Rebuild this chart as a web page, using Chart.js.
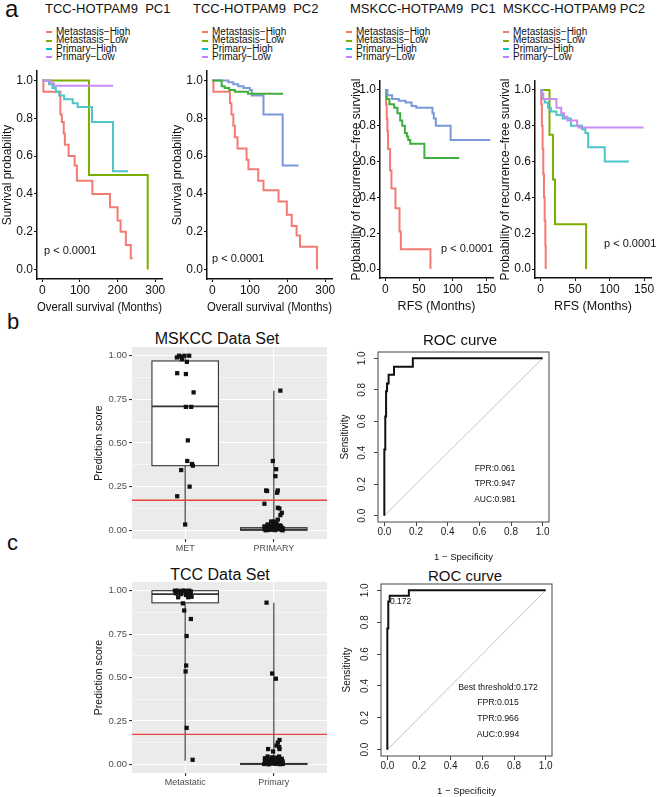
<!DOCTYPE html>
<html>
<head>
<meta charset="utf-8">
<script src="https://cdn.jsdelivr.net/npm/chart.js@4.4.1/dist/chart.umd.min.js"></script>
<style>
  body { margin: 0; background: #fff; }
  #fig { position: relative; width: 658px; height: 797px; overflow: hidden;
         font-family: "Liberation Sans", Arial, Helvetica, sans-serif; color: #111; }
  canvas { position: absolute; }
  .t { position: absolute; white-space: nowrap; line-height: 1; transform: translateY(-50%); }
  .c { transform: translate(-50%, -50%); }
  .leg { position: absolute; font-size: 10px; white-space: nowrap; }
  .leg div { height: 8.3px; line-height: 8.3px; }
  .leg i { display: inline-block; width: 6px; height: 2px; vertical-align: middle; margin-right: 4px; }
</style>
</head>
<body>
<div id="fig">
  <div class="t" style="left:5px;top:9px;font-size:24px">a</div>
  <div class="t" style="left:7px;top:322px;font-size:22px">b</div>
  <div class="t" style="left:7px;top:543px;font-size:22px">c</div>

  <div class="t" style="left:45px;top:8px;font-size:13px">TCC-HOTPAM9&nbsp; PC1</div>
  <div class="t" style="left:193px;top:8px;font-size:13px">TCC-HOTPAM9&nbsp; PC2</div>
  <div class="t" style="left:350px;top:8px;font-size:13px">MSKCC-HOTPAM9&nbsp; PC1</div>
  <div class="t" style="left:503px;top:8px;font-size:13px">MSKCC-HOTPAM9 PC2</div>

  <div class="leg" id="leg1" style="left:46px;top:28px"></div>
  <div class="leg" id="leg2" style="left:202px;top:28px"></div>
  <div class="leg" id="leg3" style="left:346px;top:28px"></div>
  <div class="leg" id="leg4" style="left:503px;top:28px"></div>

  <canvas id="km1" width="175" height="315" style="left:0;top:0"></canvas>
  <canvas id="km2" width="174" height="315" style="left:170px;top:0"></canvas>
  <canvas id="km3" width="154" height="314" style="left:349px;top:0"></canvas>
  <canvas id="km4" width="160" height="314" style="left:498px;top:0"></canvas>

  <div class="t" style="left:44px;top:250px;font-size:11px">p &lt; 0.0001</div>
  <div class="t" style="left:212px;top:258px;font-size:11px">p &lt; 0.0001</div>
  <div class="t" style="left:441px;top:248px;font-size:11px">p &lt; 0.0001</div>
  <div class="t" style="left:604px;top:243px;font-size:11px">p &lt; 0.0001</div>

  <div class="t c" style="left:217px;top:339px;font-size:16px">MSKCC Data Set</div>
  <div class="t c" style="left:460px;top:339px;font-size:15px">ROC curve</div>
  <div class="t c" style="left:220px;top:575px;font-size:16px">TCC Data Set</div>
  <div class="t c" style="left:465px;top:575px;font-size:15px">ROC curve</div>

  <canvas id="box1" width="240" height="224" style="left:93px;top:330px"></canvas>
  <canvas id="roc1" width="220" height="223" style="left:339px;top:340px"></canvas>
  <canvas id="box2" width="240" height="223" style="left:93px;top:565px"></canvas>
  <canvas id="roc2" width="221" height="225" style="left:341px;top:572px"></canvas>

  <div class="t c" style="left:495px;top:468px;font-size:8.5px">FPR:0.061</div>
  <div class="t c" style="left:495px;top:483px;font-size:8.5px">TPR:0.947</div>
  <div class="t c" style="left:495px;top:499px;font-size:8.5px">AUC:0.981</div>

  <div class="t" style="left:390px;top:601px;font-size:8.5px">0.172</div>
  <div class="t c" style="left:498px;top:687px;font-size:8.7px">Best threshold:0.172</div>
  <div class="t c" style="left:498px;top:702px;font-size:8.7px">FPR:0.015</div>
  <div class="t c" style="left:498px;top:718px;font-size:8.7px">TPR:0.966</div>
  <div class="t c" style="left:498px;top:734px;font-size:8.7px">AUC:0.994</div>
</div>

<script>
const FAMILY = '"Liberation Sans", Arial, Helvetica, sans-serif';
Chart.defaults.font.family = FAMILY;
Chart.defaults.color = '#111';

// ---- panel a: Kaplan-Meier curves (time in months, survival probability) ----
const groups = ['Metastasis−High', 'Metastasis−Low', 'Primary−High', 'Primary−Low'];
const groupColors = ['#f8766d', '#7cae00', '#00bfc4', '#c77cff'];

const tccPc1MetHighT = [0, 3, 48, 52, 57, 60, 70, 86, 92, 133, 180, 200, 208, 222, 235, 240];
const tccPc1MetHighS = [1, 0.94, 0.82, 0.78, 0.72, 0.66, 0.60, 0.55, 0.47, 0.40, 0.33, 0.26, 0.20, 0.13, 0.06, 0.06];
const tccPc1MetLowT = [0, 124, 280];
const tccPc1MetLowS = [1, 0.5, 0];
const tccPc1PriHighT = [0, 18, 27, 36, 45, 58, 81, 94, 132, 188, 228];
const tccPc1PriHighS = [1, 0.98, 0.96, 0.94, 0.92, 0.90, 0.88, 0.86, 0.78, 0.52, 0.52];
const tccPc1PriLowT = [0, 22, 31, 188];
const tccPc1PriLowS = [1, 0.985, 0.972, 0.972];

const tccPc2MetHighT = [0, 3, 47, 51, 56, 60, 67, 91, 96, 122, 136, 176, 198, 211, 224, 233, 278];
const tccPc2MetHighS = [1, 0.94, 0.88, 0.82, 0.76, 0.70, 0.64, 0.58, 0.53, 0.47, 0.42, 0.36, 0.29, 0.23, 0.18, 0.12, 0];
const tccPc2MetLowT = [0, 25, 33, 45, 60, 95, 188];
const tccPc2MetLowS = [1, 0.97, 0.96, 0.95, 0.94, 0.93, 0.93];
const tccPc2PriT = [0, 43, 56, 69, 83, 100, 105, 136, 187, 229];
const tccPc2PriS = [1, 0.99, 0.98, 0.97, 0.96, 0.95, 0.92, 0.82, 0.55, 0.55];

const mskPc1MetHighT = [0, 1, 2, 3, 4, 7, 9, 15, 21, 23, 67];
const mskPc1MetHighS = [1, 0.92, 0.84, 0.77, 0.67, 0.55, 0.45, 0.34, 0.21, 0.11, 0];
const mskPc1MetLowT = [0, 2, 6, 13, 18, 22, 25, 29, 32, 34, 37, 58, 110];
const mskPc1MetLowS = [1, 0.95, 0.92, 0.90, 0.87, 0.83, 0.80, 0.76, 0.74, 0.72, 0.70, 0.62, 0.62];
const mskPc1PriT = [0, 3, 10, 20, 30, 39, 46, 70, 72, 75, 97, 156];
const mskPc1PriS = [1, 0.97, 0.95, 0.94, 0.93, 0.91, 0.90, 0.87, 0.84, 0.80, 0.72, 0.72];

const mskPc2MetHighT = [0, 1, 2, 3, 4, 5, 6, 7, 7.5];
const mskPc2MetHighS = [1, 0.92, 0.80, 0.67, 0.53, 0.40, 0.27, 0.13, 0];
const mskPc2MetLowT = [0, 13, 18, 21, 66];
const mskPc2MetLowS = [1, 0.75, 0.5, 0.25, 0];
const mskPc2PriHighT = [0, 2, 6, 11, 15, 23, 32, 44, 60, 65, 69, 93, 128];
const mskPc2PriHighS = [1, 0.95, 0.93, 0.90, 0.88, 0.86, 0.84, 0.80, 0.78, 0.76, 0.68, 0.60, 0.60];
const mskPc2PriLowT = [0, 1.5, 4, 23, 30, 34, 39, 53, 55, 149];
const mskPc2PriLowS = [1, 0.98, 0.95, 0.90, 0.87, 0.85, 0.83, 0.80, 0.79, 0.79];

const kmYTicks = [0, 0.2, 0.4, 0.6, 0.8, 1.0];
const osTicks = [0, 100, 200, 300];
const rfsTicks = [0, 50, 100, 150];

// ---- panel b/c: prediction scores (x = category position incl. jitter) ----
const boxCatsMskcc = ['MET', 'PRIMARY'];
const mskMetX = [0.906, 0.93, 0.955, 0.963, 0.993, 1.019, 1.045, 0.91, 1.008, 1.095, 1.008, 1.068, 1.03, 1.023, 1.076, 1.087, 0.955, 1.05, 0.91, 1.0];
const mskMetY = [0.99, 1.0, 0.995, 0.98, 1.0, 0.965, 1.0, 0.90, 0.895, 0.79, 0.707, 0.707, 0.515, 0.397, 0.38, 0.37, 0.345, 0.25, 0.195, 0.033];
const mskPriX = [2.074, 1.989, 2.026, 2.018, 1.913, 1.924, 2.045, 2.037, 1.894, 2.045, 2.063, 2.09, 2.074, 2.045, 1.97, 2.0, 2.026, 1.932, 1.894, 2.082,
  1.90, 1.92, 1.94, 1.96, 1.98, 2.00, 2.02, 2.04, 2.06, 2.08, 2.10, 1.91, 1.93, 1.95, 1.97, 1.99, 2.01, 2.03, 2.05, 2.07, 2.09, 1.90, 1.95, 2.00, 2.05, 2.10, 1.93, 1.98, 2.03, 2.08];
const mskPriY = [0.80, 0.397, 0.35, 0.31, 0.228, 0.225, 0.228, 0.215, 0.152, 0.129, 0.125, 0.10, 0.087, 0.061, 0.05, 0.05, 0.04, 0.033, 0.022, 0.022,
  0.005, 0.012, 0.002, 0.018, 0.008, 0.015, 0.003, 0.01, 0.02, 0.006, 0.012, 0.0, 0.008, 0.025, 0.004, 0.03, 0.001, 0.016, 0.007, 0.028, 0.002, 0.018, 0.006, 0.024, 0.012, 0.0, 0.03, 0.02, 0.035, 0.014];
const mskQ1 = [0.37, 0], mskMed = [0.71, 0.005], mskQ3 = [0.97, 0.015], mskLo = [0.03, 0], mskHi = [1.0, 0.80];

const boxCatsTcc = ['Metastatic', 'Primary'];
const tccMetX = [0.884, 0.914, 0.944, 0.971, 0.997, 1.019, 1.045, 1.064, 0.895, 0.951, 1.008, 1.056, 1.072, 0.921, 1.034, 0.974, 0.989, 1.064, 1.016, 1.011, 1.005, 1.016, 1.084];
const tccMetY = [1.0, 1.0, 0.995, 1.0, 1.0, 0.99, 1.0, 0.995, 0.985, 0.98, 0.975, 0.98, 0.965, 0.962, 0.962, 0.927, 0.886, 0.837, 0.739, 0.569, 0.535, 0.21, 0.026];
const tccPriX = [1.918, 1.981, 2.023, 2.064, 2.045, 2.03, 2.06, 1.936, 2.064, 1.992,
  1.89, 1.91, 1.93, 1.95, 1.97, 1.99, 2.01, 2.03, 2.05, 2.07, 2.09, 1.90, 1.92, 1.94, 1.96, 1.98, 2.00, 2.02, 2.04, 2.06, 2.08, 2.10, 1.90, 1.94, 1.98, 2.02, 2.06, 2.10, 1.93, 1.97, 2.01, 2.05, 2.09];
const tccPriY = [0.931, 0.523, 0.493, 0.14, 0.125, 0.108, 0.10, 0.088, 0.088, 0.074,
  0.002, 0.01, 0.02, 0.004, 0.015, 0.03, 0.006, 0.012, 0.025, 0.001, 0.018, 0.035, 0.008, 0.0, 0.022, 0.04, 0.012, 0.003, 0.03, 0.045, 0.009, 0.016, 0.02, 0.028, 0.005, 0.038, 0.014, 0.002, 0.045, 0.01, 0.024, 0.006, 0.032];
const tccQ1 = [0.93, 0], tccMed = [0.98, 0.002], tccQ3 = [1.0, 0.005], tccLo = [0.02, 0], tccHi = [1.0, 0.93];

const threshold = 0.172;
const boxYTicks = [0, 0.125, 0.25, 0.375, 0.5, 0.625, 0.75, 0.875, 1.0];

// ---- ROC curves ----
const rocTicks = [0, 0.2, 0.4, 0.6, 0.8, 1.0];
const mskFpr = [0, 0.006, 0.011, 0.017, 0.027, 0.061, 0.18, 1.0];
const mskTpr = [0, 0.42, 0.63, 0.79, 0.84, 0.895, 0.947, 1.0];
const tccFpr = [0, 0.006, 0.015, 0.136, 1.0];
const tccTpr = [0, 0.76, 0.93, 0.966, 1.0];

// legends (html)
['leg1', 'leg2', 'leg3', 'leg4'].forEach(id => {
  document.getElementById(id).innerHTML = groups.map((g, i) =>
    '<div><i style="background:' + groupColors[i] + '"></i>' + g + '</div>').join('');
});

const setTicks = vals => s => { s.ticks = vals.map(v => ({ value: v })); };
const isMajor = v => Math.abs(v * 4 - Math.round(v * 4)) < 1e-6;

function kmChart(id, series, o) {
  new Chart(document.getElementById(id), {
    type: 'line',
    data: {
      datasets: series.map(s => ({
        data: s.t.map((t, i) => ({ x: t, y: s.s[i] })),
        borderColor: s.c, borderWidth: 2, pointRadius: 0, stepped: true
      }))
    },
    options: {
      responsive: false, animation: false, events: [],
      layout: { padding: o.pad },
      plugins: { legend: { display: false }, tooltip: { enabled: false } },
      scales: {
        x: {
          type: 'linear', min: o.xmin, max: o.xmax,
          afterBuildTicks: setTicks(o.xticks),
          afterFit: s => { s.height = 36; },
          border: { color: '#111', width: 1.5 },
          grid: { drawOnChartArea: false, tickLength: 3, color: '#111' },
          ticks: { autoSkip: false, maxRotation: 0, padding: 1, font: { size: 12 }, color: '#111', callback: v => String(v) },
          title: { display: true, text: o.xTitle, font: { size: 12.5 }, color: '#111', padding: 0 }
        },
        y: {
          type: 'linear', min: -0.05, max: 1.05,
          afterBuildTicks: setTicks(kmYTicks),
          afterFit: s => { s.width = o.yw; },
          border: { color: '#111', width: 1.5 },
          grid: { drawOnChartArea: false, tickLength: 3, color: '#111' },
          ticks: { autoSkip: false, padding: 1, font: { size: 12 }, color: '#111', callback: v => v.toFixed(1) },
          title: { display: true, text: o.yTitle, font: { size: 12 }, color: '#111', padding: 0 }
        }
      }
    }
  });
}

const salmon = '#f47b73', olive = '#7cae00', cyan = '#4cc4c8', purple = '#c98cf0', green = '#3fae3b', blue = '#7b98db';

kmChart('km1', [
  { t: tccPc1PriLowT, s: tccPc1PriLowS, c: purple },
  { t: tccPc1PriHighT, s: tccPc1PriHighS, c: cyan },
  { t: tccPc1MetLowT, s: tccPc1MetLowS, c: olive },
  { t: tccPc1MetHighT, s: tccPc1MetHighS, c: salmon }
], { pad: { left: 0, top: 71, right: 13, bottom: 0 }, yw: 37, xmin: -14, xmax: 318, xticks: osTicks,
     xTitle: 'Overall survival (Months)', yTitle: 'Survival probability' });

kmChart('km2', [
  { t: tccPc2MetLowT, s: tccPc2MetLowS, c: green },
  { t: tccPc2PriT, s: tccPc2PriS, c: blue },
  { t: tccPc2MetHighT, s: tccPc2MetHighS, c: salmon }
], { pad: { left: 0, top: 71, right: 12, bottom: 0 }, yw: 37, xmin: -14, xmax: 318, xticks: osTicks,
     xTitle: 'Overall survival (Months)', yTitle: 'Survival probability' });

kmChart('km3', [
  { t: mskPc1PriT, s: mskPc1PriS, c: blue },
  { t: mskPc1MetLowT, s: mskPc1MetLowS, c: green },
  { t: mskPc1MetHighT, s: mskPc1MetHighS, c: salmon }
], { pad: { left: 0, top: 81, right: 10, bottom: 0 }, yw: 31, xmin: -8, xmax: 160, xticks: rfsTicks,
     xTitle: 'RFS (Months)', yTitle: 'Probability of recurrence−free survival' });

kmChart('km4', [
  { t: mskPc2PriLowT, s: mskPc2PriLowS, c: purple },
  { t: mskPc2PriHighT, s: mskPc2PriHighS, c: cyan },
  { t: mskPc2MetLowT, s: mskPc2MetLowS, c: olive },
  { t: mskPc2MetHighT, s: mskPc2MetHighS, c: salmon }
], { pad: { left: 0, top: 81, right: 7, bottom: 0 }, yw: 37, xmin: -8, xmax: 160, xticks: rfsTicks,
     xTitle: 'RFS (Months)', yTitle: 'Probability of recurrence−free survival' });

// grey ggplot panel
const greyPanel = {
  id: 'greyPanel',
  beforeDraw(chart) {
    const a = chart.chartArea, ctx = chart.ctx;
    ctx.save(); ctx.fillStyle = '#ebebeb';
    ctx.fillRect(a.left, a.top, a.right - a.left, a.bottom - a.top);
    ctx.restore();
  }
};

// box + whiskers, drawn through the chart scales
const boxes = {
  id: 'boxes',
  beforeDatasetsDraw(chart, args, opts) {
    const { ctx, scales: { x, y } } = chart;
    ctx.save();
    ctx.strokeStyle = '#333'; ctx.lineWidth = 1.1;
    opts.q1.forEach((q1, i) => {
      const p = i + 1;
      const xl = x.getPixelForValue(p - 0.375), xr = x.getPixelForValue(p + 0.375), xc = x.getPixelForValue(p);
      const y1 = y.getPixelForValue(q1), y3 = y.getPixelForValue(opts.q3[i]);
      ctx.beginPath();
      ctx.moveTo(xc, y.getPixelForValue(opts.lo[i])); ctx.lineTo(xc, y1);
      ctx.moveTo(xc, y3); ctx.lineTo(xc, y.getPixelForValue(opts.hi[i]));
      ctx.stroke();
      ctx.fillStyle = '#fff';
      ctx.fillRect(xl, y3, xr - xl, y1 - y3);
      ctx.strokeRect(xl, y3, xr - xl, y1 - y3);
      ctx.lineWidth = 1.8;
      ctx.beginPath();
      const ym = y.getPixelForValue(opts.med[i]);
      ctx.moveTo(xl, ym); ctx.lineTo(xr, ym); ctx.stroke();
      ctx.lineWidth = 1.1;
    });
    ctx.restore();
  }
};

function boxChart(id, o) {
  new Chart(document.getElementById(id), {
    type: 'scatter',
    data: {
      datasets: [
        { type: 'line', data: [{ x: 0.4, y: threshold }, { x: 2.6, y: threshold }], borderColor: '#e8433c', borderWidth: 1.3, pointRadius: 0 },
        { data: o.x1.map((v, i) => ({ x: v, y: o.y1[i] })), pointStyle: 'rect', pointRadius: 3, backgroundColor: '#111', borderWidth: 0 },
        { data: o.x2.map((v, i) => ({ x: v, y: o.y2[i] })), pointStyle: 'rect', pointRadius: 3, backgroundColor: '#111', borderWidth: 0 }
      ]
    },
    options: {
      responsive: false, animation: false, events: [],
      layout: { padding: { left: 0, top: 17, right: 6, bottom: 0 } },
      plugins: { legend: { display: false }, tooltip: { enabled: false }, boxes: o.box },
      scales: {
        x: {
          type: 'linear', min: 0.4, max: 2.6,
          afterBuildTicks: setTicks([1, 2]),
          afterFit: s => { s.height = 15; },
          border: { display: false },
          grid: { color: '#fff', lineWidth: 1.1, tickLength: 3, tickColor: '#333' },
          ticks: { autoSkip: false, maxRotation: 0, padding: 1, font: { size: 9 }, color: '#4d4d4d', callback: v => o.cats[v - 1] }
        },
        y: {
          type: 'linear', min: -0.05, max: 1.05,
          afterBuildTicks: setTicks(boxYTicks),
          afterFit: s => { s.width = 39; },
          border: { display: false },
          grid: {
            color: '#fff', tickLength: 3,
            lineWidth: c => isMajor(c.tick.value) ? 1.1 : 0.5,
            tickColor: c => isMajor(c.tick.value) ? '#333' : 'rgba(0,0,0,0)'
          },
          ticks: { autoSkip: false, padding: 2, font: { size: 9.5 }, color: '#4d4d4d', callback: v => isMajor(v) ? v.toFixed(2) : '' },
          title: { display: true, text: 'Prediction score', font: { size: 10.5 }, color: '#111', padding: 0 }
        }
      }
    },
    plugins: [greyPanel, boxes]
  });
}

boxChart('box1', { cats: boxCatsMskcc, x1: mskMetX, y1: mskMetY, x2: mskPriX, y2: mskPriY,
  box: { q1: mskQ1, med: mskMed, q3: mskQ3, lo: mskLo, hi: mskHi } });
boxChart('box2', { cats: boxCatsTcc, x1: tccMetX, y1: tccMetY, x2: tccPriX, y2: tccPriY,
  box: { q1: tccQ1, med: tccMed, q3: tccQ3, lo: tccLo, hi: tccHi } });

// R-style frame and y labels turned 90 degrees
const frame = {
  id: 'frame',
  afterDraw(chart) {
    const a = chart.chartArea, ctx = chart.ctx, y = chart.scales.y;
    ctx.save(); ctx.strokeStyle = '#444'; ctx.lineWidth = 1;
    ctx.strokeRect(a.left, a.top, a.right - a.left, a.bottom - a.top);
    ctx.font = '10px ' + FAMILY; ctx.fillStyle = '#222';
    ctx.textAlign = 'center'; ctx.textBaseline = 'middle';
    y.ticks.forEach(t => {
      ctx.save();
      ctx.translate(y.right - 16, y.getPixelForValue(t.value));
      ctx.rotate(-Math.PI / 2);
      ctx.fillText(t.value.toFixed(1), 0, 0);
      ctx.restore();
    });
    ctx.restore();
  }
};

function rocChart(id, fpr, tpr, yw) {
  new Chart(document.getElementById(id), {
    type: 'line',
    data: {
      datasets: [
        { data: fpr.map((v, i) => ({ x: v, y: tpr[i] })), borderColor: '#111', borderWidth: 2, pointRadius: 0, stepped: 'after' },
        { data: [{ x: 0, y: 0 }, { x: 1, y: 1 }], borderColor: '#c4c4c4', borderWidth: 1, pointRadius: 0 }
      ]
    },
    options: {
      responsive: false, animation: false, events: [],
      layout: { padding: { left: 0, top: 12, right: 10, bottom: 0 } },
      plugins: { legend: { display: false }, tooltip: { enabled: false } },
      scales: {
        x: {
          type: 'linear', min: -0.04, max: 1.04,
          afterBuildTicks: setTicks(rocTicks),
          afterFit: s => { s.height = 41; },
          border: { display: false },
          grid: { drawOnChartArea: false, tickLength: 4, color: '#444' },
          ticks: { autoSkip: false, maxRotation: 0, padding: 0, font: { size: 10 }, color: '#222', callback: v => v.toFixed(1) },
          title: { display: true, text: '1 − Specificity', font: { size: 9.5 }, color: '#111', padding: 0 }
        },
        y: {
          type: 'linear', min: -0.04, max: 1.04,
          afterBuildTicks: setTicks(rocTicks),
          afterFit: s => { s.width = yw; },
          border: { display: false },
          grid: { drawOnChartArea: false, tickLength: 4, color: '#444' },
          ticks: { display: false },
          title: { display: true, text: 'Sensitivity', font: { size: 10 }, color: '#111', padding: 0 }
        }
      }
    },
    plugins: [frame]
  });
}

rocChart('roc1', mskFpr, mskTpr, 39);
rocChart('roc2', tccFpr, tccTpr, 40);
</script>
</body>
</html>
